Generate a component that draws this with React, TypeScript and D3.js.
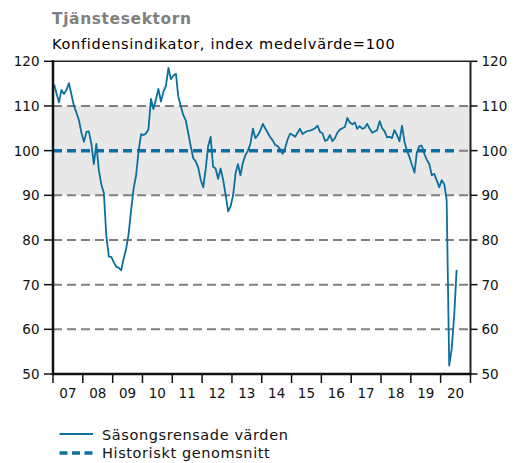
import React from "react";
import * as d3 from "d3";

const title = "Tjänstesektorn";
const subtitle = "Konfidensindikator, index medelvärde=100";
const seriesLabel = "Säsongsrensade värden";
const avgLabel = "Historiskt genomsnitt";
const yearLabels = ["07", "08", "09", "10", "11", "12", "13", "14", "15", "16", "17", "18", "19", "20"];
const yTicks = [50, 60, 70, 80, 90, 100, 110, 120];
const historicalAverage = 100;
const startYear = 2007;

// Monthly, seasonally adjusted, Jan 2007 – Jul 2020
const values = [
  114.8, 112.7, 110.8, 113.6, 112.7, 113.6, 115.1, 112.5, 110, 108.5, 106.8, 104,
  102, 104.2, 104.3, 101.5, 97, 101.5, 95.7, 92.4, 90.5, 81, 76.3, 76.2,
  75, 74, 73.8, 73.2, 75.8, 78, 81.3, 86.7, 91.6, 94.5, 100, 103.7,
  103.5, 103.9, 104.8, 111.6, 109.3, 111.5, 113.8, 111, 113.2, 114.5, 118.5, 116,
  116.8, 117.2, 112.2, 110, 108, 106.8, 104, 101, 98.3, 97.6, 96.2, 93.5,
  91.8, 96, 101, 103.1, 96.4, 96, 93.7, 96, 93.5, 90.2, 86.4, 87.5,
  90, 95, 97, 94.5, 97.3, 99, 100, 101.5, 104.9, 102.8, 103.5, 104.5,
  106, 104.9, 104, 103, 102.3, 101.3, 101, 100.3, 99.3, 100.6, 102.6, 103.8,
  103.5, 103.1, 104, 104.9, 103.7, 104.1, 104.4, 104.5, 104.7, 105, 105.6, 104.2,
  103.9, 102.2, 102.4, 103.5, 102.1, 102.8, 104, 104.7, 105, 105.3, 107.3, 106.3,
  105.9, 106.3, 104.9, 105.5, 104.9, 105.1, 106, 104.9, 104, 104.3, 104.6, 106.6,
  105, 104.3, 103, 103.1, 102.8, 104.6, 103.5, 102.1, 105.6, 102, 100, 98.6,
  96.8, 95.1, 99.5, 101, 101.1, 99.3, 98, 97, 94.5, 94.8, 93.3, 91.8,
  93.4, 92.5, 89, 51.9, 55.5, 63, 73.3,
];

const W = 516;
const H = 463;
const left = 53;
const right = 470.5;
const top = 61.3;
const bottom = 374;
const blue = "#0b6f9f";
const font = "'DejaVu Sans', Verdana, sans-serif";

export default function App() {
  const x = d3.scaleTime()
    .domain([new Date(startYear, 0, 1), new Date(startYear + yearLabels.length, 0, 1)])
    .range([left, right]);
  const y = d3.scaleLinear().domain([50, 120]).range([bottom, top]);

  const dates = values.map((_, i) => new Date(startYear, i, 15));
  const line = d3.line<number>()
    .x((_, i) => x(dates[i]))
    .y((d) => y(d));

  const yearStarts = d3.range(yearLabels.length + 1).map((k) => new Date(startYear + k, 0, 1));
  const lastX = x(dates[dates.length - 1]);

  return (
    <svg width={W} height={H} style={{ display: "block", position: "absolute", left: 0, top: 0 }} fontFamily={font}>
      <rect width={W} height={H} fill="#fff" />
      <text x={52} y={24} fontSize={15.5} fontWeight="bold" fill="#808080" letterSpacing={0.6}>{title}</text>
      <text x={52} y={49} fontSize={14.5} fill="#000" letterSpacing={0.72}>{subtitle}</text>

      {/* band */}
      <rect x={left} y={y(110)} width={right - left} height={y(90) - y(110)} fill="#e8e8e8" />

      {/* grid */}
      {yTicks.filter((t) => t !== 50 && t !== 120).map((t) => (
        <line key={t} x1={left} x2={right} y1={y(t)} y2={y(t)} stroke="#808080" strokeWidth={2} strokeDasharray="9,5" />
      ))}

      {/* historical average */}
      <line x1={left} x2={lastX} y1={y(historicalAverage)} y2={y(historicalAverage)} stroke={blue} strokeWidth={3.5} strokeDasharray="9,5" />

      {/* series */}
      <path d={line(values) || ""} fill="none" stroke={blue} strokeWidth={1.8} strokeLinejoin="round" />

      {/* frame */}
      <line x1={left} x2={right} y1={top} y2={top} stroke="#222" strokeWidth={1.5} />
      <line x1={right} x2={right} y1={top} y2={bottom} stroke="#222" strokeWidth={2} />
      <line x1={left} x2={left} y1={top - 1} y2={bottom + 1} stroke="#111" strokeWidth={2.5} />
      <line x1={left - 1} x2={right + 1} y1={bottom} y2={bottom} stroke="#111" strokeWidth={2.5} />

      {/* y axes */}
      {yTicks.map((t) => (
        <g key={t}>
          <line x1={left - 9} x2={left} y1={y(t)} y2={y(t)} stroke="#111" strokeWidth={1.5} />
          <text x={39.5} y={y(t) + 5} fontSize={13.5} textAnchor="end" fill="#111">{t}</text>
          <line x1={right} x2={right + 7} y1={y(t)} y2={y(t)} stroke="#111" strokeWidth={1.5} />
          <text x={481.5} y={y(t) + 5} fontSize={13.5} textAnchor="start" fill="#111">{t}</text>
        </g>
      ))}

      {/* x axis */}
      {yearStarts.map((d, k) => (
        <line key={k} x1={x(d)} x2={x(d)} y1={bottom} y2={bottom + 9} stroke="#111" strokeWidth={1.5} />
      ))}
      {yearLabels.map((lab, k) => (
        <text key={lab} x={(x(yearStarts[k]) + x(yearStarts[k + 1])) / 2} y={398} fontSize={13.5} textAnchor="middle" fill="#111">{lab}</text>
      ))}

      {/* legend */}
      <line x1={59.5} x2={93} y1={434} y2={434} stroke={blue} strokeWidth={1.8} />
      <text x={102} y={439.5} fontSize={14.5} fill="#111" letterSpacing={0.6}>{seriesLabel}</text>
      <line x1={59.5} x2={93} y1={453} y2={453} stroke={blue} strokeWidth={3.5} strokeDasharray="8,4.5" />
      <text x={102} y={457.5} fontSize={14.5} fill="#111" letterSpacing={0.6}>{avgLabel}</text>
    </svg>
  );
}
